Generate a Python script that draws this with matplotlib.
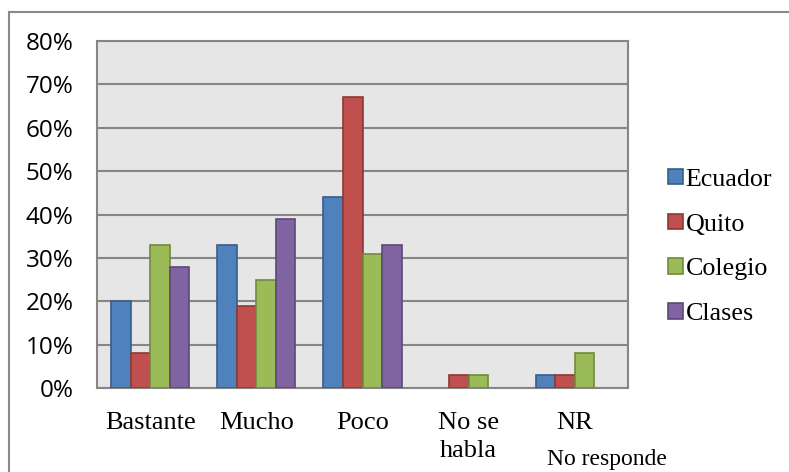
import matplotlib.pyplot as plt
import matplotlib.lines as mlines
import numpy as np

categories = ["Bastante", "Mucho", "Poco", "No se\nhabla", "NR"]
series = ["Ecuador", "Quito", "Colegio", "Clases"]
ecuador = [20, 33, 44, 0, 3]
quito = [8, 19, 67, 3, 3]
colegio = [33, 25, 31, 3, 8]
clases = [28, 39, 33, 0, 0]
yticks = [0, 10, 20, 30, 40, 50, 60, 70, 80]

fills = ["#4F81BD", "#C0504D", "#9BBB59", "#8064A2"]
edges = ["#385D8A", "#8C3836", "#71893F", "#5C4776"]

W, H = 789, 472
fig = plt.figure(figsize=(W / 100, H / 100), dpi=100)

# plot area in pixel coordinates
left, right, top, bottom = 97, 628, 41, 388
ax = fig.add_axes([left / W, 1 - bottom / H, (right - left) / W, (bottom - top) / H])
ax.set_facecolor("#E6E6E6")

x = np.arange(len(categories))
width = 0.184
for i, (name, vals) in enumerate(zip(series, [ecuador, quito, colegio, clases])):
    offs = (i - 1.5) * width
    bars = ax.bar(x + offs, vals, width, color=fills[i], edgecolor=edges[i],
                  linewidth=1.2, label=name, zorder=3)
    # empty bars leave no outline
    for b, v in zip(bars, vals):
        if v == 0:
            b.set_linewidth(0)

ax.set_xlim(-0.5, len(categories) - 0.5)
ax.set_ylim(0, 80)
ax.set_yticks(yticks)
ax.set_yticklabels(["%d%%" % v for v in yticks], fontsize=17.5,
                   fontfamily="Open Sans")
ax.yaxis.grid(True, color="#868686", linewidth=1.5, zorder=1)
ax.set_axisbelow(True)
ax.tick_params(axis="y", length=0, pad=17)
ax.tick_params(axis="x", length=0, pad=17)
ax.set_xticks(x)
ax.set_xticklabels(categories, fontsize=19, fontfamily="Liberation Serif",
                   linespacing=1.38, va="top")
for side in ["left", "bottom", "top", "right"]:
    ax.spines[side].set_color("#868686")
    ax.spines[side].set_linewidth(1.5)

# note under the NR category
fig.text(607 / W, 1 - 459 / H, "No responde", fontsize=17,
         fontfamily="Liberation Serif", ha="center", va="center")

leg = fig.legend(loc="center left", bbox_to_anchor=(645 / W, 1 - 247 / H),
                 frameon=False, prop={"family": "Liberation Serif", "size": 18.7},
                 handlelength=0.55, handleheight=0.55, handletextpad=0.12,
                 labelspacing=0.88)

# outer chart frame (top and left edges only)
fig.add_artist(mlines.Line2D([9 / W, 1.0], [1 - 12 / H, 1 - 12 / H],
                             transform=fig.transFigure, color="#8A8A8A", linewidth=1.5))
fig.add_artist(mlines.Line2D([9 / W, 9 / W], [1 - 12 / H, 0.0],
                             transform=fig.transFigure, color="#8A8A8A", linewidth=1.5))

fig.savefig("out.png", dpi=100)
